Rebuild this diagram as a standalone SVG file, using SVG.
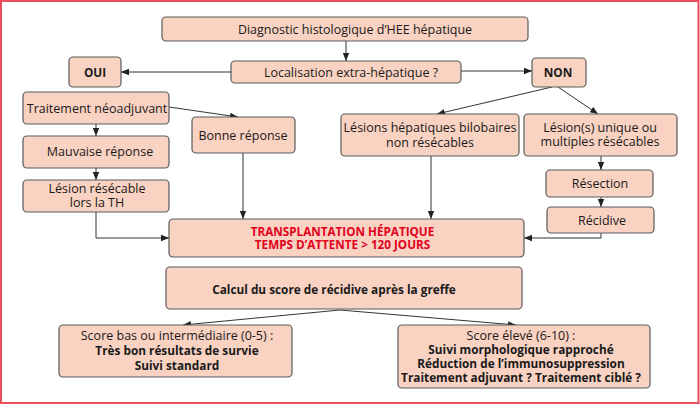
<svg xmlns="http://www.w3.org/2000/svg" width="700" height="405" viewBox="0 0 700 405">
<defs>
<marker id="ah" viewBox="0 0 8 8" refX="8" refY="4" markerWidth="8" markerHeight="8" markerUnits="userSpaceOnUse" orient="auto">
<path d="M0,0.8 L8,4 L0,7.2 Z" fill="#222"/>
</marker>
<style>
.b{fill:#f9d2c2;stroke:#5a5a5a;stroke-width:1.2}
.t{font-family:"Open Sans","Noto Sans",sans-serif;font-size:12.5px;fill:#1a1a1a;text-anchor:middle}
.bd{font-weight:bold;font-size:11.8px}
.r{fill:#e3001b;font-weight:bold;font-size:11.7px}
.c{fill:none;stroke:#333;stroke-width:1;marker-end:url(#ah)}
</style>
</defs>
<rect x="1" y="1" width="697.5" height="402" fill="#fff" stroke="#e8505b" stroke-width="2"/>
<g id="connectors">
<path class="c" d="M346,41 V61"/>
<path class="c" d="M231,72 H121"/>
<path class="c" d="M461,71 H532"/>
<path class="c" d="M552,87 L437,114"/>
<path class="c" d="M558,87 L598,114"/>
<path class="c" d="M169,107 L238,117"/>
<path class="c" d="M96,124 V136"/>
<path class="c" d="M96,168 V180"/>
<path class="c" d="M96,212 V238 H169"/>
<path class="c" d="M243,153 V219"/>
<path class="c" d="M431,156 V219"/>
<path class="c" d="M601,156 V170"/>
<path class="c" d="M601,197 V207"/>
<path class="c" d="M601,233 V238 H524"/>
<path class="c" d="M340,310 L183,325"/>
<path class="c" d="M340,310 L516,325"/>
</g>
<g id="diagnostic"><rect class="b" x="162" y="17" width="366" height="24" rx="4"/><text class="t" x="355" y="34">Diagnostic histologique d’HEE hépatique</text></g>
<g id="localisation"><rect class="b" x="231" y="61" width="230" height="22" rx="4"/><text class="t" x="351" y="76.5">Localisation extra-hépatique ?</text></g>
<g id="oui"><rect class="b" x="69" y="57" width="52" height="30" rx="4"/><text class="t bd" x="95" y="76.5">OUI</text></g>
<g id="non"><rect class="b" x="532" y="58" width="54" height="29" rx="4"/><text class="t bd" x="558" y="77">NON</text></g>
<g id="traitement"><rect class="b" x="23" y="92" width="146" height="32" rx="4"/><text class="t" x="97" y="112.5">Traitement néoadjuvant</text></g>
<g id="bonne"><rect class="b" x="192" y="117" width="103" height="36" rx="4"/><text class="t" x="243" y="139.5">Bonne réponse</text></g>
<g id="bilobaires"><rect class="b" x="341" y="114" width="178" height="42" rx="4"/><text class="t" x="430" y="132">Lésions hépatiques bilobaires</text><text class="t" x="430" y="147">non résécables</text></g>
<g id="unique"><rect class="b" x="524" y="114" width="153" height="42" rx="4"/><text class="t" x="600" y="131.5">Lésion(s) unique ou</text><text class="t" x="600" y="146">multiples résécables</text></g>
<g id="mauvaise"><rect class="b" x="23" y="136" width="146" height="32" rx="4"/><text class="t" x="100" y="156">Mauvaise réponse</text></g>
<g id="resecable"><rect class="b" x="23" y="180" width="146" height="32" rx="4"/><text class="t" x="97" y="193">Lésion résécable</text><text class="t" x="97" y="207">lors la TH</text></g>
<g id="resection"><rect class="b" x="546" y="170" width="107" height="27" rx="4"/><text class="t" x="600" y="188">Résection</text></g>
<g id="recidive"><rect class="b" x="547" y="207" width="107" height="26" rx="4"/><text class="t" x="602" y="225">Récidive</text></g>
<g id="transplantation"><rect class="b" x="169" y="219" width="355" height="38" rx="4"/><text class="t r" x="342.5" y="236">TRANSPLANTATION HÉPATIQUE</text><text class="t r" x="342.5" y="249">TEMPS D’ATTENTE &gt; 120 JOURS</text></g>
<g id="calcul"><rect class="b" x="166" y="267" width="356" height="42" rx="4"/><text class="t bd" x="334" y="294">Calcul du score de récidive après la greffe</text></g>
<g id="scorebas"><rect class="b" x="59" y="325" width="233" height="52" rx="4"/><text class="t" x="177" y="340">Score bas ou intermédiaire (0-5) :</text><text class="t bd" x="177" y="355">Très bon résultats de survie</text><text class="t bd" x="177" y="370">Suivi standard</text></g>
<g id="scoreeleve"><rect class="b" x="398" y="325" width="252" height="63" rx="4"/><text class="t" x="521" y="340">Score élevé (6-10) :</text><text class="t bd" x="521" y="354">Suivi morphologique rapproché</text><text class="t bd" x="521" y="368">Réduction de l’immunosuppression</text><text class="t bd" x="521" y="382">Traitement adjuvant ? Traitement ciblé ?</text></g>
</svg>
